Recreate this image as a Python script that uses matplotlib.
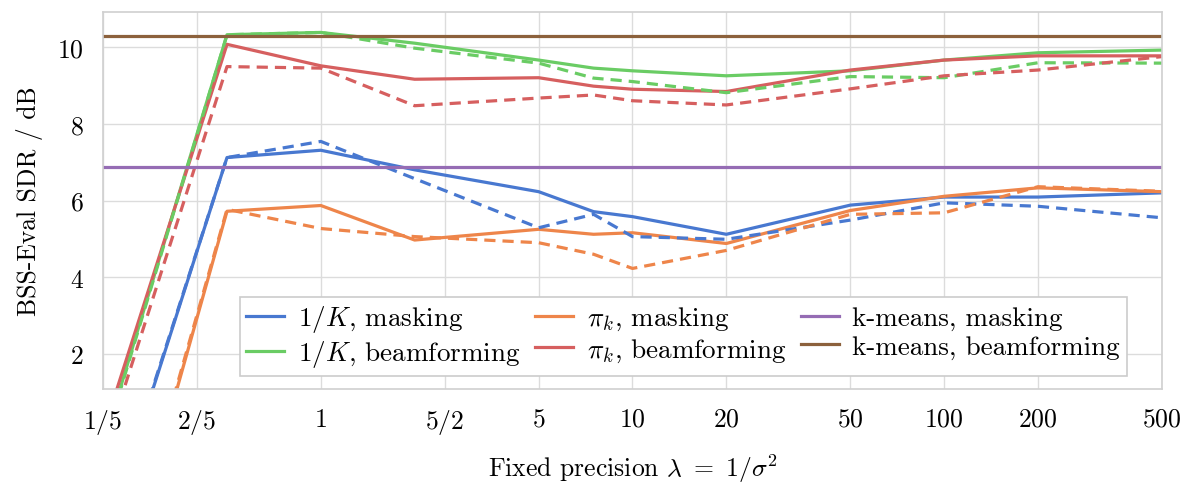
import matplotlib
matplotlib.use('Agg')
import matplotlib.pyplot as plt

# Data
precision = [0.2, 0.5, 1, 2, 5, 7.5, 10, 20, 50, 100, 200, 500]

inv_k_masking = [-2.98, 7.12, 7.31, 6.80, 6.23, 5.71, 5.58, 5.12, 5.88, 6.09, 6.09, 6.20]
inv_k_masking_alt = [-2.90, 7.12, 7.54, 6.57, 5.29, 5.64, 5.06, 4.99, 5.49, 5.94, 5.85, 5.55]
pi_k_masking = [-5.76, 5.72, 5.87, 4.97, 5.25, 5.12, 5.16, 4.88, 5.74, 6.11, 6.33, 6.23]
pi_k_masking_alt = [-5.60, 5.77, 5.27, 5.06, 4.90, 4.60, 4.23, 4.70, 5.64, 5.68, 6.36, 6.24]
inv_k_beam = [-0.38, 10.32, 10.38, 10.10, 9.66, 9.45, 9.38, 9.25, 9.38, 9.66, 9.85, 9.92]
inv_k_beam_alt = [-0.45, 10.32, 10.38, 9.97, 9.58, 9.19, 9.10, 8.81, 9.23, 9.20, 9.59, 9.58]
pi_k_beam = [-0.05, 10.07, 9.51, 9.16, 9.20, 8.98, 8.90, 8.84, 9.40, 9.66, 9.77, 9.77]
pi_k_beam_alt = [-0.62, 9.49, 9.45, 8.47, 8.67, 8.75, 8.60, 8.49, 8.91, 9.25, 9.40, 9.75]
kmeans_masking = 6.88
kmeans_beam = 10.29

tick_values = [0.2, 0.4, 1, 2.5, 5, 10, 20, 50, 100, 200, 500]
tick_labels = ['$1/5$', '$2/5$', '$1$', '$5/2$', '$5$', '$10$', '$20$',
               '$50$', '$100$', '$200$', '$500$']

BLUE = '#4878d0'
ORANGE = '#ee854a'
GREEN = '#6acc64'
RED = '#d65f5f'
PURPLE = '#956cb4'
BROWN = '#8c613c'

FS = 18.5


def plot_sdr():
    '''Draw SDR against fixed precision'''
    plt.rcParams['font.family'] = 'serif'
    plt.rcParams['font.serif'] = ['cmr10']
    plt.rcParams['mathtext.fontset'] = 'cm'
    plt.rcParams['axes.formatter.use_mathtext'] = True

    fig = plt.figure(figsize=(11.85, 4.85), dpi=100)
    ax = fig.add_axes([0.0869, 0.196, 0.8937, 0.777])

    lw = 2.3
    # Solid lines (in legend)
    h1, = ax.plot(precision, inv_k_masking, color=BLUE, lw=lw,
                  label='$1/K$, masking')
    h2, = ax.plot(precision, inv_k_beam, color=GREEN, lw=lw,
                  label='$1/K$, beamforming')
    h3, = ax.plot(precision, pi_k_masking, color=ORANGE, lw=lw,
                  label=r'$\pi_k$, masking')
    h4, = ax.plot(precision, pi_k_beam, color=RED, lw=lw,
                  label=r'$\pi_k$, beamforming')

    # Dashed variants (no legend)
    dash = (0, (3.5, 2.2))
    ax.plot(precision, inv_k_masking_alt, color=BLUE, lw=lw, ls=dash)
    ax.plot(precision, pi_k_masking_alt, color=ORANGE, lw=lw, ls=dash)
    ax.plot(precision, inv_k_beam_alt, color=GREEN, lw=lw, ls=dash)
    ax.plot(precision, pi_k_beam_alt, color=RED, lw=lw, ls=dash)

    h5 = ax.axhline(kmeans_masking, color=PURPLE, lw=lw,
                    label='k-means, masking')
    h6 = ax.axhline(kmeans_beam, color=BROWN, lw=lw,
                    label='k-means, beamforming')

    ax.set_xscale('log')
    ax.set_xlim(0.2, 500)
    ax.set_ylim(1.09, 10.91)
    ax.set_xticks(tick_values)
    ax.set_xticklabels(tick_labels)
    ax.minorticks_off()
    ax.set_yticks([2, 4, 6, 8, 10])
    ax.tick_params(axis='both', length=0, labelsize=FS)
    ax.tick_params(axis='x', pad=13)
    ax.tick_params(axis='y', pad=14)
    ax.grid(True, color='#dcdcdc', lw=1)
    ax.set_axisbelow(True)
    for spine in ax.spines.values():
        spine.set_color('#d0d0d0')
        spine.set_linewidth(1.2)

    ax.set_xlabel(r'Fixed precision $\lambda\ =\ 1/\sigma^2$', fontsize=FS,
                  labelpad=11)
    ax.set_ylabel('BSS-Eval SDR / dB', fontsize=FS, labelpad=10)

    leg = ax.legend(handles=[h1, h2, h3, h4, h5, h6], ncol=3,
                    loc='lower left', bbox_to_anchor=(0.129, 0.034),
                    fontsize=19.5, fancybox=False, framealpha=1,
                    edgecolor='#cccccc', handlelength=1.4,
                    columnspacing=0.55, handletextpad=0.5,
                    borderpad=0.25, labelspacing=0.15, borderaxespad=0)
    leg.get_frame().set_linewidth(1.2)

    fig.savefig('out.png', dpi=100)


def main():
    '''Main entry'''
    plot_sdr()


if __name__ == "__main__":
    main()
